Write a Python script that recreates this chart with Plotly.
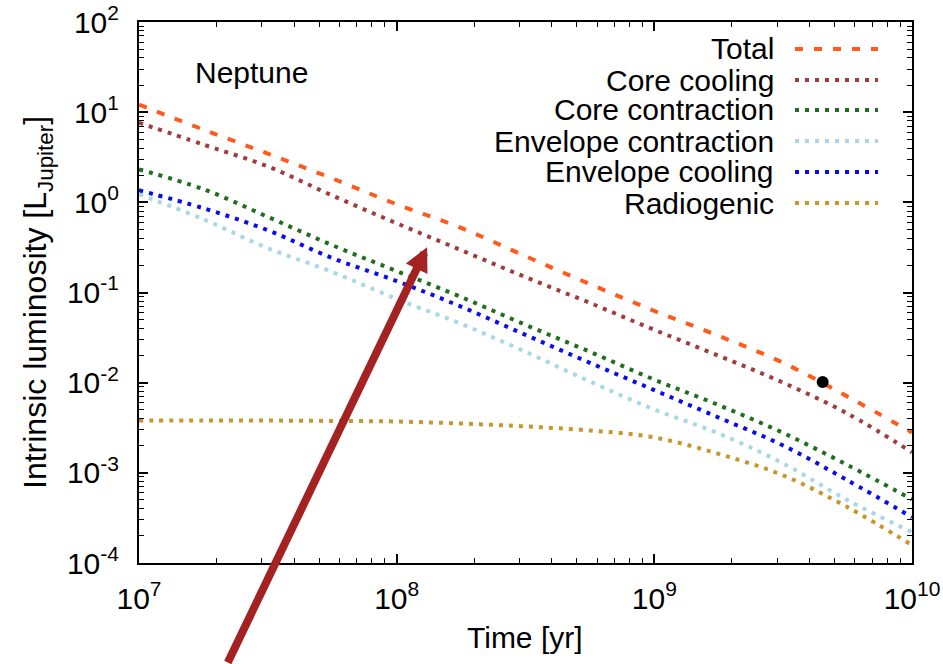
import plotly.graph_objects as go

# ---- data ----
time_yr = [1e7, 1.778e7, 3.162e7, 5.623e7, 1e8, 1.778e8, 3.162e8, 5.623e8,
           1e9, 1.778e9, 3.162e9, 5.623e9, 1e10]
total = [12.1, 6.41, 3.47, 1.84, 0.951, 0.521, 0.253, 0.124,
         0.0625, 0.0330, 0.0166, 0.0070, 0.0028]
core_cooling = [7.65, 4.37, 2.50, 1.19, 0.586, 0.295, 0.148, 0.0766,
                0.0385, 0.0199, 0.0100, 0.00454, 0.00169]
core_contraction = [2.32, 1.40, 0.690, 0.335, 0.173, 0.0891, 0.0438, 0.0220,
                    0.0108, 0.00564, 0.00277, 0.00122, 0.000509]
envelope_contraction = [1.23, 0.649, 0.310, 0.169, 0.0848, 0.0449, 0.0220, 0.0103,
                        0.00504, 0.00273, 0.00127, 0.000497, 0.000220]
envelope_cooling = [1.36, 0.860, 0.490, 0.241, 0.134, 0.0697, 0.0339, 0.0166,
                    0.00826, 0.00410, 0.00201, 0.000826, 0.000322]
radiogenic = [0.00380, 0.00380, 0.00380, 0.00376, 0.00371, 0.00352, 0.00327, 0.00295,
              0.00247, 0.00162, 0.000937, 0.000416, 0.000158]

neptune_age = [4.5e9]
neptune_lum = [0.0102]

series_names = ["Total", "Core cooling", "Core contraction",
                "Envelope contraction", "Envelope cooling", "Radiogenic"]
series_values = [total, core_cooling, core_contraction,
                 envelope_contraction, envelope_cooling, radiogenic]
series_colors = ["#FF5A1E", "#A03C3C", "#1E6E1E", "#A8D8E6", "#0A0AF0", "#C8962E"]
series_dash = ["8px,11px", "4px,6px", "4px,6px", "4px,6px", "4px,6px", "4px,6px"]

x_exponents = [7, 8, 9, 10]
y_exponents = [-4, -3, -2, -1, 0, 1, 2]

FONT = "Liberation Sans, Arial, Helvetica, sans-serif"
FS = 30

# figure geometry
W, H = 943, 664
L, R, T, B = 139, 31, 22, 101
PW, PH = W - L - R, H - T - B


def px(xp):
    return (xp - L) / PW


def py(yp):
    return (H - B - yp) / PH


fig = go.Figure()

for name, vals, col, dash in zip(series_names, series_values, series_colors, series_dash):
    fig.add_trace(go.Scatter(
        x=time_yr, y=vals, mode="lines", name=name,
        line=dict(color=col, width=4, dash=dash, shape="spline", smoothing=1.0),
        showlegend=False,
    ))

fig.add_trace(go.Scatter(
    x=neptune_age, y=neptune_lum, mode="markers",
    marker=dict(color="black", size=12), showlegend=False,
))

# minor tick positions
x_minor = [m * 10 ** e for e in range(7, 10) for m in range(2, 10)]
y_minor = [m * 10.0 ** e for e in range(-4, 2) for m in range(2, 10)]

axis_common = dict(
    showline=True, linecolor="black", linewidth=2, mirror="allticks",
    ticks="inside", ticklen=9, tickwidth=1.5, tickcolor="black",
    showgrid=False, zeroline=False, automargin=False,
    tickfont=dict(family=FONT, size=FS, color="black"),
)

fig.update_xaxes(
    type="log", range=[7, 10],
    tickmode="array",
    tickvals=[10 ** e for e in x_exponents],
    ticktext=["10<sup>%d</sup>" % e for e in x_exponents],
    minor=dict(tickmode="array", tickvals=x_minor, ticks="inside",
               ticklen=5, tickwidth=1, tickcolor="black"),
    ticklabelstandoff=8,
    **axis_common,
)
fig.update_yaxes(
    type="log", range=[-4, 2],
    tickmode="array",
    tickvals=[10.0 ** e for e in y_exponents],
    ticktext=["10<sup>%d</sup>" % e for e in y_exponents],
    minor=dict(tickmode="array", tickvals=y_minor, ticks="inside",
               ticklen=5, tickwidth=1, tickcolor="black"),
    ticklabelstandoff=12,
    **axis_common,
)

annotations = []
# axis titles
annotations.append(dict(
    text="Time [yr]", xref="paper", yref="paper", x=px(525), y=py(637),
    xanchor="center", yanchor="middle", showarrow=False,
    font=dict(family=FONT, size=FS, color="black"),
))
annotations.append(dict(
    text="Intrinsic luminosity [L<sub>Jupiter</sub>]", xref="paper", yref="paper",
    x=px(37), y=py(303), textangle=-90,
    xanchor="center", yanchor="middle", showarrow=False,
    font=dict(family=FONT, size=32, color="black"),
))
# planet label
annotations.append(dict(
    text="Neptune", xref="paper", yref="paper", x=px(193), y=py(73),
    xanchor="left", yanchor="middle", showarrow=False,
    font=dict(family=FONT, size=FS, color="black"),
))

# legend (text right, sample to the right, gnuplot style)
shapes = []
row_y = [49, 80, 110, 141, 172, 203]
for name, col, dash, ry in zip(series_names, series_colors, series_dash, row_y):
    annotations.append(dict(
        text=name, xref="paper", yref="paper", x=px(776), y=py(ry),
        xanchor="right", yanchor="middle", showarrow=False,
        font=dict(family=FONT, size=FS, color="black"),
    ))
    shapes.append(dict(
        type="line", xref="paper", yref="paper",
        x0=px(795), x1=px(878), y0=py(ry), y1=py(ry),
        line=dict(color=col, width=4, dash=dash),
    ))

# big red arrow pointing at the core-cooling curve
annotations.append(dict(
    x=8.118, y=-0.497, xref="x", yref="y", text="",
    showarrow=True, arrowhead=2, arrowsize=0.6, arrowwidth=8,
    arrowcolor="#A52222", ax=-200, ay=425, standoff=0,
))

fig.update_layout(
    width=W, height=H,
    margin=dict(l=L, r=R, t=T, b=B),
    paper_bgcolor="white", plot_bgcolor="white",
    annotations=annotations, shapes=shapes,
    font=dict(family=FONT, size=FS, color="black"),
    showlegend=False,
)

fig.write_html("out.html")
